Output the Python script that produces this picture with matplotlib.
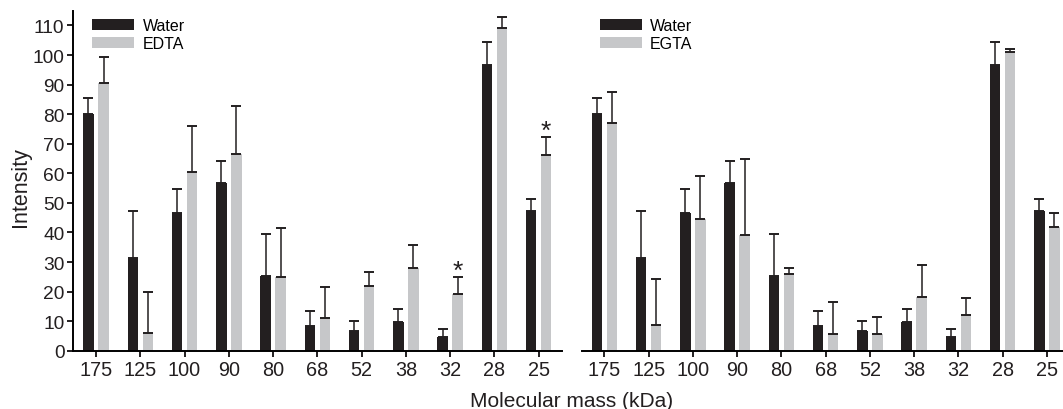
import numpy as np
import matplotlib
matplotlib.use("Agg")
import matplotlib.pyplot as plt

plt.rcParams['font.family'] = ['Liberation Sans', 'DejaVu Sans']

# molecular mass bands (kDa)
bands = ['175', '125', '100', '90', '80', '68', '52', '38', '32', '28', '25']

# intensity (mean) and upper error
water = [80.0, 31.3, 46.5, 56.6, 25.2, 8.3, 6.6, 9.7, 4.6, 96.8, 47.2]
water_err = [5.4, 15.8, 8.2, 7.4, 14.4, 5.2, 3.4, 4.4, 2.7, 7.6, 4.0]

edta = [90.4, 6.0, 60.4, 66.4, 24.9, 11.0, 21.8, 27.9, 19.1, 109.3, 66.1]
edta_err = [9.0, 13.9, 15.6, 16.5, 16.5, 10.6, 4.8, 7.9, 5.9, 3.7, 6.3]

egta = [77.1, 8.7, 44.5, 39.3, 25.8, 5.6, 5.6, 18.0, 12.0, 101.0, 41.7]
egta_err = [10.4, 15.6, 14.6, 25.5, 2.2, 10.8, 5.7, 10.9, 5.7, 0.9, 5.0]

# significance marks on the EDTA panel
edta_sig = ['32', '25']

dark = '#231f20'
light = '#c6c7c9'

W, H = 1063, 410
fig = plt.figure(figsize=(W / 100, H / 100), dpi=100)

bottom = (H - 351.7) / H
height = 340.0 / H
ax1 = fig.add_axes([73 / W, bottom, (561.7 - 73) / W, height])
ax2 = fig.add_axes([582.3 / W, bottom, (1069 - 582.3) / W, height])

x = np.arange(len(bands))
off = 0.17
bw = 0.237


def draw_panel(ax, treat, treat_err, treat_name, xlim):
    ekw = dict(elinewidth=1.1, capthick=1.4, capsize=3.6, ecolor=dark)
    ax.bar(x - off, water, bw, color=dark, label='Water',
           yerr=[np.zeros(len(x)), water_err], error_kw=ekw)
    ax.bar(x + off, treat, bw, color=light, label=treat_name,
           yerr=[np.zeros(len(x)), treat_err], error_kw=ekw)
    ax.set_xlim(*xlim)
    ax.set_ylim(0, 115)
    ax.set_xticks(x)
    ax.set_xticklabels(bands, fontsize=14.3)
    for s in ['top', 'right']:
        ax.spines[s].set_visible(False)
    ax.spines['bottom'].set_linewidth(1.4)
    ax.spines['left'].set_linewidth(1.4)
    ax.tick_params(axis='x', length=4, width=1.4, pad=2.6, colors=dark)
    ax.tick_params(axis='y', length=4, width=1.4, pad=2.2, labelsize=13.8, colors=dark)


draw_panel(ax1, edta, edta_err, 'EDTA', (-0.52, 10.52))
draw_panel(ax2, egta, egta_err, 'EGTA', (-0.5, 10.5))

ax1.set_yticks(np.arange(0, 111, 10))
ax2.spines['left'].set_visible(False)
ax2.set_yticks([])

# asterisks
for b in edta_sig:
    i = bands.index(b)
    ax1.annotate('*', (x[i] + off, edta[i] + edta_err[i]), xytext=(0, -1),
                 textcoords='offset points', ha='center', va='baseline',
                 fontsize=19, color=dark)

# legends
leg_kw = dict(loc='upper left', frameon=False, fontsize=11.5, borderpad=0,
              handlelength=2.66, handleheight=0.625, handletextpad=0.5,
              labelspacing=0.2, bbox_transform=fig.transFigure)
ax1.legend(bbox_to_anchor=(84 / W, 1 - 11 / H), **leg_kw)
ax2.legend(bbox_to_anchor=(591.7 / W, 1 - 11 / H), **leg_kw)

fig.text(572 / W, 1 - 407 / H, 'Molecular mass (kDa)', ha='center',
         va='baseline', fontsize=15, color=dark)
fig.text(20.7 / W, 1 - 187 / H, 'Intensity', rotation=90, ha='center',
         va='center', fontsize=15.5, color=dark)

fig.savefig('out.png', dpi=100)
